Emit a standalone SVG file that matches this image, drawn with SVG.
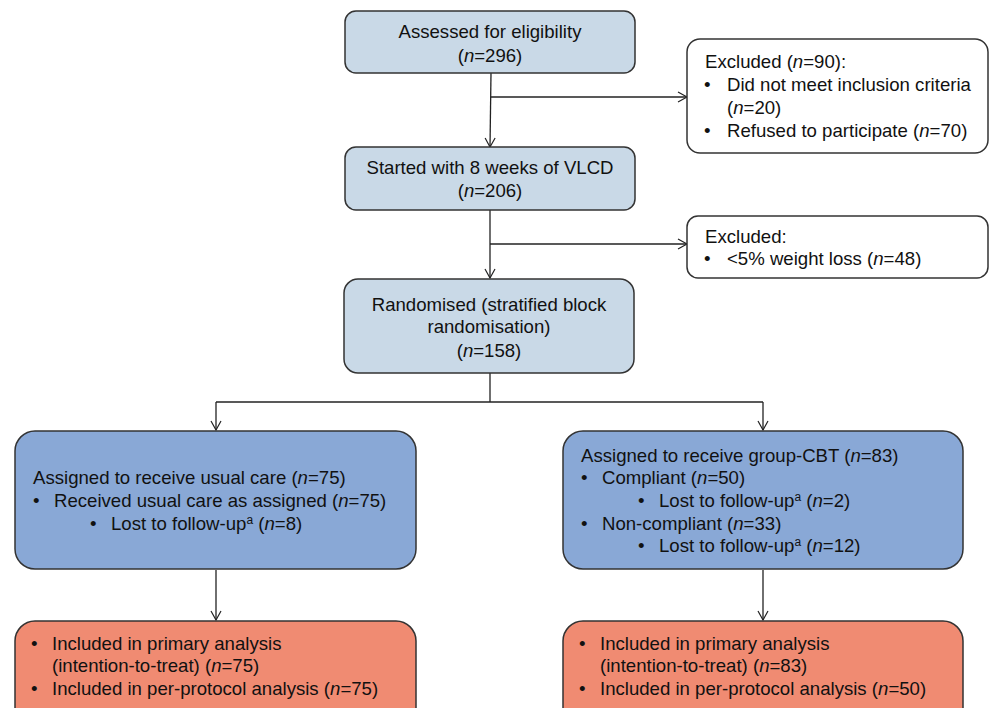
<svg xmlns="http://www.w3.org/2000/svg" width="990" height="708" viewBox="0 0 990 708">
<defs>
<marker id="arr" markerWidth="12" markerHeight="12" refX="10" refY="6" orient="auto" markerUnits="userSpaceOnUse">
<path d="M1,1 L10,6 L1,11" fill="none" stroke="#222" stroke-width="1.2"/>
</marker>
<style>
text{font-family:"Liberation Sans",Arial,sans-serif;font-size:18.6px;fill:#111}
.c{text-anchor:middle}
.lb{fill:#c9d9e7;stroke:#333;stroke-width:1.5}
.bl{fill:#89a8d6;stroke:#333;stroke-width:1.5}
.rd{fill:#f08b72;stroke:#333;stroke-width:1.5}
.wh{fill:#fff;stroke:#333;stroke-width:1.5}
.ln{fill:none;stroke:#222;stroke-width:1.3}
.sup{font-size:12px}
</style>
</defs>
<rect width="990" height="708" fill="#fff"/>
<g id="connectors">
<path class="ln" d="M491,73 L490,147" marker-end="url(#arr)"/>
<path class="ln" d="M491,97 L687,97" marker-end="url(#arr)"/>
<path class="ln" d="M490,210 L490,278" marker-end="url(#arr)"/>
<path class="ln" d="M490,244 L687,244" marker-end="url(#arr)"/>
<path class="ln" d="M490,373 L490,402"/>
<path class="ln" d="M216,402 L763,402"/>
<path class="ln" d="M216,402 L216,430" marker-end="url(#arr)"/>
<path class="ln" d="M763,402 L763,430" marker-end="url(#arr)"/>
<path class="ln" d="M216,570 L216,620" marker-end="url(#arr)"/>
<path class="ln" d="M763,570 L763,620" marker-end="url(#arr)"/>
</g>
<g id="assessed">
<rect class="lb" x="345" y="11" width="290" height="62" rx="11"/>
<text class="c" x="490" y="38">Assessed for eligibility</text>
<text class="c" x="490" y="62">(<tspan font-style="italic">n</tspan>=296)</text>
</g>
<g id="excluded1">
<rect class="wh" x="687" y="39" width="301" height="114" rx="13"/>
<text x="705" y="68">Excluded (<tspan font-style="italic">n</tspan>=90):</text>
<text x="704" y="91">•</text><text x="727" y="91">Did not meet inclusion criteria</text>
<text x="727" y="114">(<tspan font-style="italic">n</tspan>=20)</text>
<text x="704" y="137">•</text><text x="727" y="137">Refused to participate (<tspan font-style="italic">n</tspan>=70)</text>
</g>
<g id="vlcd">
<rect class="lb" x="345" y="147" width="290" height="63" rx="11"/>
<text class="c" x="490" y="174">Started with 8 weeks of VLCD</text>
<text class="c" x="490" y="197">(<tspan font-style="italic">n</tspan>=206)</text>
</g>
<g id="excluded2">
<rect class="wh" x="687" y="216" width="301" height="62" rx="11"/>
<text x="705" y="243">Excluded:</text>
<text x="704" y="265">•</text><text x="727" y="265">&lt;5% weight loss (<tspan font-style="italic">n</tspan>=48)</text>
</g>
<g id="randomised">
<rect class="lb" x="344" y="279" width="290" height="94" rx="14"/>
<text class="c" x="489" y="311">Randomised (stratified block</text>
<text class="c" x="489" y="333">randomisation)</text>
<text class="c" x="489" y="357">(<tspan font-style="italic">n</tspan>=158)</text>
</g>
<g id="usualcare">
<rect class="bl" x="15" y="431" width="401" height="138" rx="20"/>
<text x="33" y="484">Assigned to receive usual care (<tspan font-style="italic">n</tspan>=75)</text>
<text x="33" y="507">•</text><text x="54" y="507">Received usual care as assigned (<tspan font-style="italic">n</tspan>=75)</text>
<text x="90" y="530">•</text><text x="111" y="530">Lost to follow-up<tspan class="sup" dy="-6">a</tspan><tspan dy="6"> (</tspan><tspan font-style="italic">n</tspan>=8)</text>
</g>
<g id="cbt">
<rect class="bl" x="563" y="431" width="400" height="138" rx="20"/>
<text x="581" y="462">Assigned to receive group-CBT (<tspan font-style="italic">n</tspan>=83)</text>
<text x="581" y="484">•</text><text x="602" y="484">Compliant (<tspan font-style="italic">n</tspan>=50)</text>
<text x="638" y="507">•</text><text x="659" y="507">Lost to follow-up<tspan class="sup" dy="-6">a</tspan><tspan dy="6"> (</tspan><tspan font-style="italic">n</tspan>=2)</text>
<text x="581" y="530">•</text><text x="602" y="530">Non-compliant (<tspan font-style="italic">n</tspan>=33)</text>
<text x="638" y="552">•</text><text x="659" y="552">Lost to follow-up<tspan class="sup" dy="-6">a</tspan><tspan dy="6"> (</tspan><tspan font-style="italic">n</tspan>=12)</text>
</g>
<g id="analysis-usual">
<rect class="rd" x="15" y="621" width="401" height="110" rx="20"/>
<text x="31" y="650">•</text><text x="52" y="650">Included in primary analysis</text>
<text x="52" y="672">(intention-to-treat) (<tspan font-style="italic">n</tspan>=75)</text>
<text x="31" y="695">•</text><text x="52" y="695">Included in per-protocol analysis (<tspan font-style="italic">n</tspan>=75)</text>
</g>
<g id="analysis-cbt">
<rect class="rd" x="563" y="621" width="400" height="110" rx="20"/>
<text x="579" y="650">•</text><text x="600" y="650">Included in primary analysis</text>
<text x="600" y="672">(intention-to-treat) (<tspan font-style="italic">n</tspan>=83)</text>
<text x="579" y="695">•</text><text x="600" y="695">Included in per-protocol analysis (<tspan font-style="italic">n</tspan>=50)</text>
</g>
</svg>
